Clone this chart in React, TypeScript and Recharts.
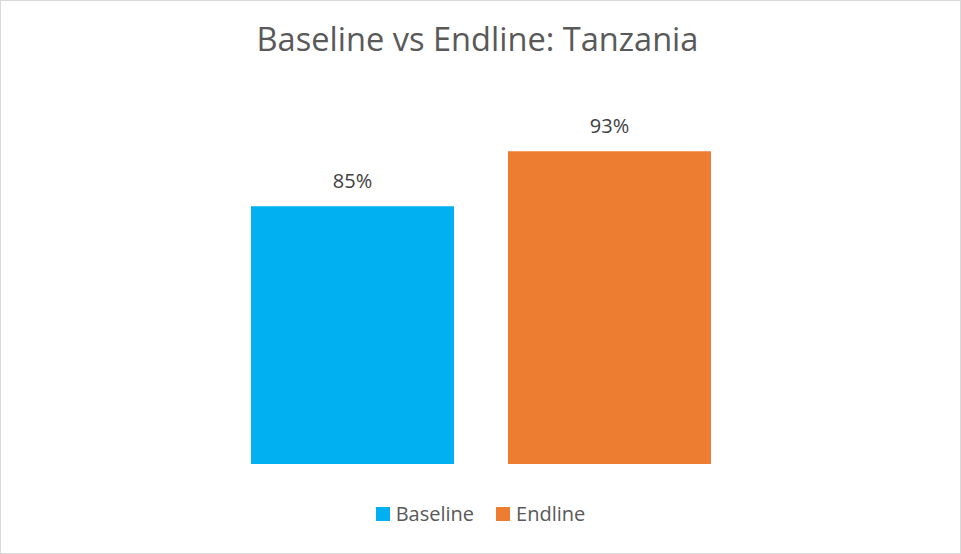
import React from "react";
import { BarChart, Bar, XAxis, YAxis, Legend, LabelList } from "recharts";

const categories = ["Tanzania"];
const seriesNames = ["Baseline", "Endline"];
const baselineValues = [85];
const endlineValues = [93];

const colors = ["#00B0F0", "#ED7D31"];
const font = "'Open Sans', sans-serif";

const data = categories.map((name, i) => ({
  name,
  Baseline: baselineValues[i],
  Endline: endlineValues[i],
}));

function LegendContent() {
  return (
    <div
      style={{
        display: "flex",
        justifyContent: "center",
        alignItems: "center",
        height: 20,
        fontFamily: font,
        fontSize: 20,
        lineHeight: "20px",
        color: "#595959",
      }}
    >
      {seriesNames.map((s, i) => (
        <div
          key={s}
          style={{ display: "flex", alignItems: "center", marginLeft: i ? 22 : 0 }}
        >
          <span
            style={{ width: 14, height: 14, background: colors[i], marginRight: 6 }}
          />
          <span>{s}</span>
        </div>
      ))}
    </div>
  );
}

export default function App() {
  return (
    <div
      style={{
        position: "absolute",
        top: 0,
        left: 0,
        width: 961,
        height: 554,
        background: "#fff",
      }}
    >
      <div
        style={{
          position: "absolute",
          top: 0,
          left: 0,
          width: 961,
          height: 554,
          boxSizing: "border-box",
          border: "1px solid #D9D9D9",
          pointerEvents: "none",
        }}
      />
      <div
        style={{
          position: "absolute",
          top: 23,
          left: 0,
          width: 955,
          textAlign: "center",
          fontFamily: font,
          fontSize: 32.6,
          lineHeight: 1,
          color: "#595959",
        }}
      >
        Baseline vs Endline: Tanzania
      </div>
      <BarChart
        width={961}
        height={554}
        data={data}
        margin={{ top: 103, right: 19, bottom: 70, left: 20 }}
        barSize={203}
        barGap={54}
      >
        <XAxis dataKey="name" hide />
        <YAxis hide domain={[47.5, 100]} />
        <Legend
          verticalAlign="bottom"
          content={() => <LegendContent />}
          wrapperStyle={{ top: 504, left: 0, width: 961, height: 20 }}
        />
        {seriesNames.map((s, i) => (
          <Bar key={s} dataKey={s} fill={colors[i]} isAnimationActive={false}>
            <LabelList
              dataKey={s}
              position="top"
              offset={18}
              formatter={(v: number) => `${v}%`}
              style={{ fontFamily: font, fontSize: 20, fill: "#404040" }}
            />
          </Bar>
        ))}
      </BarChart>
    </div>
  );
}
